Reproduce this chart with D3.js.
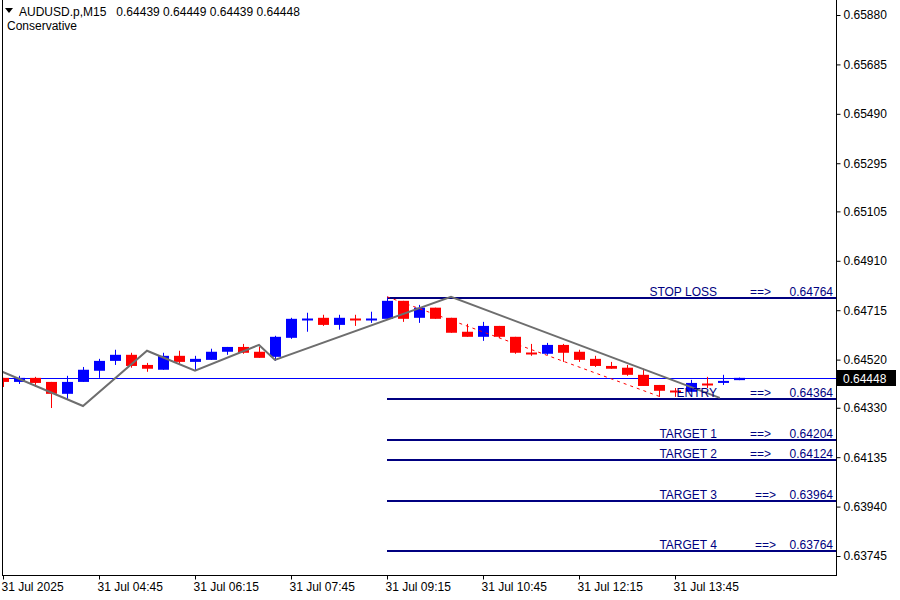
<!DOCTYPE html>
<html><head><meta charset="utf-8">
<script src="https://cdn.jsdelivr.net/npm/d3@7"></script>
<style>body{margin:0;background:#fff}svg{display:block;font-family:"Liberation Sans",Arial,sans-serif}</style>
</head><body><svg id="c" width="900" height="600"></svg>
<script>
const opens  = [0.64448,0.64432,0.64448,0.64432,0.64385,0.64432,0.64476,0.64515,0.64539,0.64499,0.64480,0.64535,0.64511,0.64519,0.64551,0.64570,0.64551,0.64531,0.64606,0.64680,0.64685,0.64657,0.64682,0.64680,0.64681,0.64752,0.64685,0.64725,0.64685,0.64630,0.64610,0.64653,0.64610,0.64548,0.64543,0.64578,0.64551,0.64523,0.64495,0.64488,0.64460,0.64420,0.64398,0.64393,0.64425,0.64428,0.64439];
const highs  = [0.64448,0.64456,0.64452,0.64432,0.64456,0.64491,0.64523,0.64559,0.64547,0.64507,0.64547,0.64555,0.64535,0.64563,0.64570,0.64582,0.64570,0.64614,0.64685,0.64705,0.64697,0.64697,0.64697,0.64709,0.64768,0.64752,0.64736,0.64725,0.64685,0.64661,0.64669,0.64653,0.64610,0.64582,0.64586,0.64582,0.64559,0.64535,0.64511,0.64499,0.64484,0.64420,0.64408,0.64440,0.64452,0.64460,0.64449];
const lows   = [0.64412,0.64424,0.64412,0.64329,0.64365,0.64432,0.64448,0.64499,0.64488,0.64472,0.64480,0.64503,0.64476,0.64519,0.64539,0.64543,0.64527,0.64515,0.64602,0.64630,0.64653,0.64638,0.64653,0.64665,0.64681,0.64669,0.64665,0.64681,0.64626,0.64610,0.64594,0.64606,0.64543,0.64535,0.64539,0.64511,0.64511,0.64491,0.64484,0.64456,0.64416,0.64373,0.64373,0.64393,0.64408,0.64420,0.64439];
const closes = [0.64432,0.64448,0.64428,0.64385,0.64432,0.64480,0.64515,0.64539,0.64495,0.64484,0.64535,0.64511,0.64523,0.64551,0.64570,0.64547,0.64527,0.64610,0.64681,0.64682,0.64657,0.64685,0.64680,0.64682,0.64752,0.64681,0.64725,0.64681,0.64626,0.64610,0.64653,0.64610,0.64547,0.64546,0.64578,0.64547,0.64519,0.64495,0.64484,0.64460,0.64416,0.64397,0.64396,0.64428,0.64423,0.64436,0.64448];
const zigIdx = [-0.19,5,9,12,16,17,28,44.8];
const zigPrice = [0.64476,0.64337,0.64555,0.64476,0.64578,0.64519,0.64768,0.64369];
const dashIdx = [24,41.1];
const dashPrice = [0.64768,0.64373];
const levelNames = ["STOP LOSS","ENTRY","TARGET 1","TARGET 2","TARGET 3","TARGET 4"];
const levelPrices = [0.64764,0.64364,0.64204,0.64124,0.63964,0.63764];
const levelStart = 24;
const yTicks = [0.65880,0.65685,0.65490,0.65295,0.65105,0.64910,0.64715,0.64520,0.64330,0.64135,0.63940,0.63745];
const xTickIdx = [0,6,12,18,24,30,36,42];
const xTickLabels = ["31 Jul 2025","31 Jul 04:45","31 Jul 06:15","31 Jul 07:45","31 Jul 09:15","31 Jul 10:45","31 Jul 12:15","31 Jul 13:45"];
const current = 0.64448;

const svg = d3.select("#c");
const x = d3.scaleLinear().domain([0,1]).range([3,19]);
const y = d3.scaleLinear().domain([0.63745,0.65880]).range([556,15]);
const R = 836, B = 575;
const plot = svg.append("g");
svg.append("defs").append("clipPath").attr("id","pc").append("rect").attr("x",2).attr("y",0).attr("width",R-2).attr("height",B);
plot.attr("clip-path","url(#pc)");

plot.append("line").attr("x1",0).attr("x2",R).attr("y1",Math.round(y(current))+0.5).attr("y2",Math.round(y(current))+0.5).attr("stroke","#0000ff").attr("stroke-width",1);

levelPrices.forEach((p,i)=>{
  const yy = Math.round(y(p));
  plot.append("line").attr("x1",x(levelStart)).attr("x2",R).attr("y1",yy).attr("y2",yy).attr("stroke","#000080").attr("stroke-width",2);
});
plot.append("line").attr("x1",x(levelStart)+0.5).attr("x2",x(levelStart)+0.5).attr("y1",Math.round(y(levelPrices[0]))).attr("y2",Math.round(y(levelPrices[0]))+4).attr("stroke","#000080");

const n = opens.length;
for(let i=0;i<n;i++){
  const up = closes[i]>=opens[i];
  const col = up?"#0000ff":"#ff0000";
  const cx = Math.round(x(i))+0.5;
  plot.append("line").attr("x1",cx).attr("x2",cx).attr("y1",y(highs[i])).attr("y2",y(lows[i])).attr("stroke",col).attr("stroke-width",1);
  const t = y(Math.max(opens[i],closes[i])), b = y(Math.min(opens[i],closes[i]));
  if(b-t<1.5){
    plot.append("line").attr("x1",cx-5.5).attr("x2",cx+5.5).attr("y1",Math.round(t)+0.5).attr("y2",Math.round(t)+0.5).attr("stroke",col).attr("stroke-width",2);
  } else {
    plot.append("rect").attr("x",cx-5.5).attr("y",t).attr("width",11).attr("height",b-t).attr("fill",col);
  }
}

const line = d3.line().x(d=>x(d[0])).y(d=>y(d[1]));
plot.append("path").attr("d",line(zigIdx.map((v,i)=>[v,zigPrice[i]]))).attr("fill","none").attr("stroke","#6e6e6e").attr("stroke-width",2);
plot.append("path").attr("d",line(dashIdx.map((v,i)=>[v,dashPrice[i]]))).attr("fill","none").attr("stroke","#ff0000").attr("stroke-width",1).attr("stroke-dasharray","3,4");

levelPrices.forEach((p,i)=>{
  const yy = Math.round(y(p))-2;
  const g = svg.append("g").attr("fill","#000080").attr("font-size",12);
  g.append("text").attr("x",717).attr("y",yy).attr("text-anchor","end").attr("textLength",levelNames[i].length>6?null:null).text(levelNames[i]);
  g.append("text").attr("x",i<4?750:755).attr("y",yy).text("==>");
  g.append("text").attr("x",833).attr("y",yy).attr("text-anchor","end").text(p.toFixed(5));
});

svg.append("line").attr("x1",2.5).attr("x2",2.5).attr("y1",0).attr("y2",B).attr("stroke","#000");
svg.append("line").attr("x1",R+0.5).attr("x2",R+0.5).attr("y1",0).attr("y2",B+1).attr("stroke","#000");
svg.append("line").attr("x1",2).attr("x2",R+1).attr("y1",B+0.5).attr("y2",B+0.5).attr("stroke","#000");

const ya = svg.append("g").attr("transform",`translate(${R+0.5},0)`).call(d3.axisRight(y).tickValues(yTicks).tickSize(4).tickPadding(3).tickFormat(d3.format(".5f")));
ya.select(".domain").remove();
ya.selectAll("text").attr("font-size",12).attr("font-family","Liberation Sans, Arial").attr("fill","#000");
ya.selectAll("line").attr("stroke","#000");

const xa = svg.append("g").attr("transform",`translate(0,${B+0.5})`).call(d3.axisBottom(x).tickValues(xTickIdx).tickSize(4).tickFormat((d,i)=>xTickLabels[i]));
xa.select(".domain").remove();
xa.selectAll("text").attr("font-size",12).attr("font-family","Liberation Sans, Arial").attr("fill","#000").attr("text-anchor","start").attr("dx",-2).attr("y",7);
xa.selectAll("line").attr("stroke","#000");

const cy = Math.round(y(current));
svg.append("rect").attr("x",R+1).attr("y",cy-8).attr("width",59).attr("height",16).attr("fill","#000");
svg.append("text").attr("x",R+7).attr("y",cy+5).attr("fill","#fff").attr("font-size",12).text(current.toFixed(5));

svg.append("path").attr("d","M5,8 L13,8 L9,13 Z").attr("fill","#000");
svg.append("text").attr("x",19).attr("y",16).attr("font-size",12).attr("xml:space","preserve").style("white-space","pre").text("AUDUSD.p,M15   0.64439 0.64449 0.64439 0.64448");
svg.append("text").attr("x",7).attr("y",30).attr("font-size",12).text("Conservative");
</script></body></html>
